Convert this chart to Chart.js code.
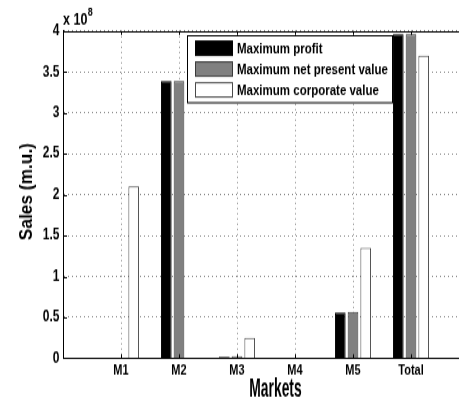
<!DOCTYPE html>
<html><head><meta charset="utf-8">
<script src="https://cdn.jsdelivr.net/npm/chart.js@4/dist/chart.umd.min.js"></script>
<style>
html,body{margin:0;padding:0;background:#fff;overflow:hidden;width:459px;height:398px;}
#wrap{position:absolute;left:0;top:0;width:472px;height:306px;transform:scale(1,1.30065);transform-origin:0 0;}
canvas{display:block;}
</style></head><body>
<div id="wrap"><canvas id="c" width="472" height="306"></canvas></div>
<script>
// ---- data ----
const categories = ['M1', 'M2', 'M3', 'M4', 'M5', 'Total'];
const seriesNames = ['Maximum profit', 'Maximum net present value', 'Maximum corporate value'];
const maxProfit    = [0,     3.39e8, 0.02e8,  0, 0.56e8,  3.96e8];
const maxNPV       = [0,     3.39e8, 0.025e8, 0, 0.565e8, 3.96e8];
const maxCorporate = [2.1e8, 0,      0.25e8,  0, 1.35e8,  3.70e8];
const yTickLabels = [0, 0.5, 1, 1.5, 2, 2.5, 3, 3.5, 4]; // ×10^8
const yExponent = '8';
const xTitle = 'Markets';
const yTitle = 'Sales (m.u.)';

const FONT = '"Liberation Sans", Arial, Helvetica, sans-serif';
const labels = ['', ...categories, ''];
const pad = arr => [null, ...arr, null];

const decor = {
  id: 'decor',
  afterDraw(chart) {
    const {ctx, chartArea: a, scales: {x, y}} = chart;
    ctx.save();
    ctx.strokeStyle = '#000';
    ctx.lineWidth = 1;
    // top box line
    ctx.beginPath();
    ctx.moveTo(a.left, Math.round(a.top) + 0.5);
    ctx.lineTo(a.right, Math.round(a.top) + 0.5);
    ctx.stroke();
    // inward ticks
    ctx.beginPath();
    yTickLabels.forEach(v => {
      const py = Math.round(y.getPixelForValue(v * 1e8)) + 0.5;
      ctx.moveTo(a.left, py); ctx.lineTo(a.left + 4, py);
    });
    categories.forEach((c, i) => {
      const px = Math.round(x.getPixelForValue(i + 1)) + 0.5;
      ctx.moveTo(px, a.bottom); ctx.lineTo(px, a.bottom - 3);
      ctx.moveTo(px, a.top); ctx.lineTo(px, a.top + 3);
    });
    ctx.stroke();

    // legend
    const lx = 187.5, ly = 27.5, lw = 205, lh = 51.5;
    ctx.fillStyle = '#fff';
    ctx.fillRect(lx, ly, lw, lh);
    ctx.strokeStyle = '#000';
    ctx.strokeRect(lx, ly, lw, lh);
    ctx.font = 'bold 11.5px ' + FONT;
    ctx.textBaseline = 'middle';
    ctx.textAlign = 'left';
    chart.data.datasets.forEach((ds, i) => {
      const cy = 37.1 + i * 16;
      ctx.fillStyle = ds.backgroundColor;
      ctx.fillRect(195.5, cy - 5.5, 37, 11);
      ctx.strokeStyle = ds.borderColor;
      ctx.strokeRect(195.5, cy - 5.5, 37, 11);
      ctx.fillStyle = '#000';
      ctx.fillText(ds.label, 237, cy + 0.5);
    });

    // exponent label
    ctx.fillStyle = '#000';
    ctx.textBaseline = 'alphabetic';
    ctx.font = 'bold 12.5px ' + FONT;
    ctx.fillText('x 10', a.left, 19.4);
    const w = ctx.measureText('x 10').width;
    ctx.font = 'bold 9px ' + FONT;
    ctx.fillText(yExponent, a.left + w + 0.5, 12);

    // axis titles (condensed)
    ctx.font = 'bold 21px ' + FONT;
    ctx.textAlign = 'center';
    ctx.save();
    ctx.translate((a.left + a.right) / 2 + 9.5, 305);
    ctx.scale(0.66, 1);
    ctx.fillText(xTitle, 0, 0);
    ctx.restore();

    ctx.font = 'bold 19px ' + FONT;
    ctx.save();
    ctx.translate(32.3, (a.top + a.bottom) / 2 - 2.3);
    ctx.rotate(-Math.PI / 2);
    ctx.scale(0.70, 1);
    ctx.fillText(yTitle, 0, 0);
    ctx.restore();
    ctx.restore();
  }
};

new Chart(document.getElementById('c'), {
  type: 'bar',
  data: {
    labels,
    datasets: [
      {label: seriesNames[0], data: pad(maxProfit), backgroundColor: '#000000', borderColor: '#000000', borderWidth: 1},
      {label: seriesNames[1], data: pad(maxNPV), backgroundColor: '#808080', borderColor: '#3a3a3a', borderWidth: 1},
      {label: seriesNames[2], data: pad(maxCorporate), backgroundColor: '#ffffff', borderColor: '#4a4a4a', borderWidth: 1}
    ]
  },
  options: {
    responsive: false,
    animation: false,
    devicePixelRatio: 1,
    categoryPercentage: 0.657,
    barPercentage: 0.84,
    layout: {padding: {top: 23.8, right: 3, left: 0, bottom: 0}},
    plugins: {legend: {display: false}, tooltip: {enabled: false}},
    scales: {
      x: {
        offset: false,
        grid: {offset: false, color: '#8a8a8a', lineWidth: 1, drawTicks: false},
        border: {display: true, color: '#000', width: 1, dash: [1, 3]},
        ticks: {color: '#000', font: {family: FONT, size: 11, weight: 'bold'}, padding: 3, autoSkip: false, maxRotation: 0},
        afterFit(s) { s.height = 30.6; }
      },
      y: {
        min: 0, max: 4e8,
        afterBuildTicks(s) { s.ticks = yTickLabels.map(v => ({value: v * 1e8})); },
        grid: {color: '#8a8a8a', lineWidth: 1, drawTicks: false},
        border: {display: true, color: '#000', width: 1, dash: [1, 3]},
        ticks: {color: '#000', font: {family: FONT, size: 12, weight: 'bold'}, padding: 3.5,
          callback: v => String(Math.round(v / 1e7) / 10)},
        afterFit(s) { s.width = 63; }
      }
    }
  },
  plugins: [decor]
});
</script>
</body></html>
